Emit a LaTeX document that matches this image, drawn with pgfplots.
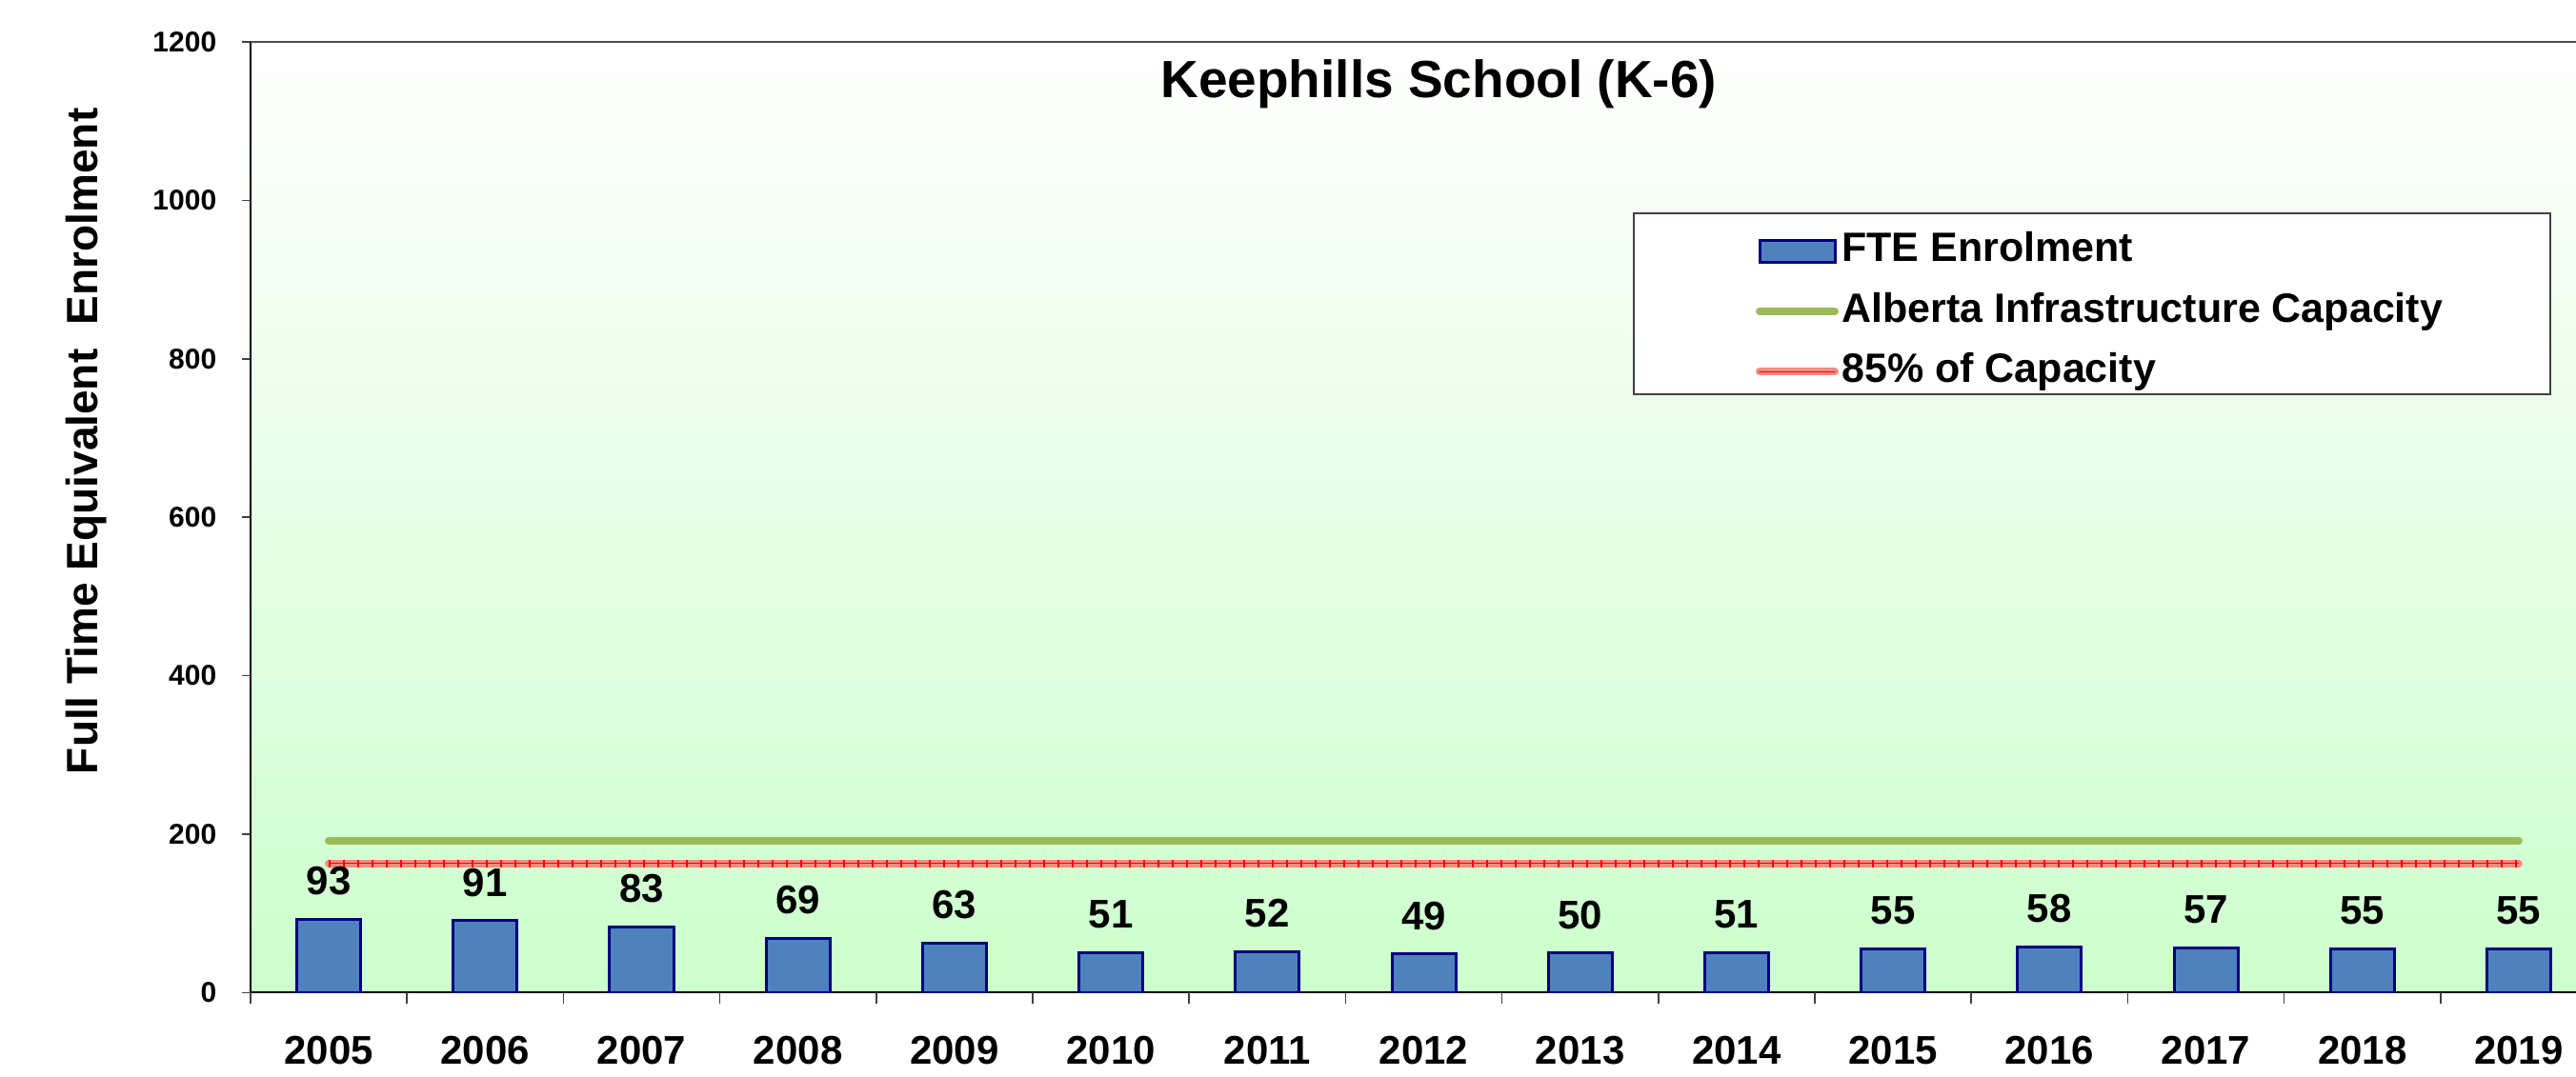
\documentclass[border=0pt]{standalone}
\usepackage{fontspec}
\setmainfont{Liberation Sans}
\usepackage{pgfplots}
\pgfplotsset{compat=1.18}
\definecolor{barfill}{RGB}{79,129,189}
\definecolor{baredge}{RGB}{0,0,128}
\definecolor{capgreen}{RGB}{155,187,89}
\definecolor{capred}{RGB}{242,140,130}
\definecolor{bggreen}{RGB}{204,255,204}
\begin{document}
\begin{tikzpicture}
\useasboundingbox (-78.9pt,-26.55pt) rectangle (732.3pt,312.75pt);
\begin{axis}[
  at={(0,0)}, anchor=south west,
  scale only axis, width=732.3pt, height=299.55pt,
  xmin=-0.5, xmax=14.366, ymin=0, ymax=1200,
  axis x line*=bottom, axis y line*=left,
  axis line style={black, line width=0.6pt},
  axis background/.style={top color=white, bottom color=bggreen},
  tick align=outside,
  major tick length=2.7pt,
  /pgf/number format/assume math mode=true,
  /pgf/number format/1000 sep={},
  xtick={0,...,14},
  xticklabels={2005,2006,2007,2008,2009,2010,2011,2012,2013,2014,2015,2016,2017,2018,2019},
  xtick style={draw=none},
  extra x ticks={-0.5,0.5,...,13.5},
  extra x tick labels={},
  extra x tick style={major tick length=3.6pt, xtick style={draw=black!75, line width=0.5pt}},
  xticklabel style={font=\fontsize{12.6}{14}\selectfont\bfseries, yshift=-7.5pt},
  ytick={0,200,...,1200},
  ytick style={draw=black!75, line width=0.5pt},
  yticklabel style={font=\fontsize{9}{11}\selectfont\bfseries, xshift=-4.5pt},
  ylabel={Full Time Equivalent\ \ Enrolment},
  ylabel style={font=\fontsize{13.8}{16}\selectfont\bfseries, at={(rel axis cs:-0.0658,0.58)}, anchor=base, rotate=0},
  title={Keephills School (K-6)},
  title style={font=\fontsize{16.5}{19}\selectfont\bfseries, at={(rel axis cs:0.511,0.9216)}, anchor=base},
  legend style={at={(rel axis cs:0.647,0.804)}, anchor=north west, draw=none, fill=none,
    inner sep=0pt, row sep=5pt,
    font=\fontsize{12.9}{15}\selectfont\bfseries,
    nodes={inner sep=1pt, text height=9.3pt, text depth=2.7pt},
    /tikz/every even column/.append style={column sep=1.4pt}},
  legend cell align=left,
]
\draw[black!70, line width=0.6pt] (rel axis cs:0,1) -- (rel axis cs:1,1);
\draw[black!75, line width=0.6pt, fill=white] (rel axis cs:0.595,0.820) rectangle (rel axis cs:0.989,0.629);
\addplot[ybar, bar width=20.1pt, fill=barfill, draw=baredge, line width=0.9pt,
  nodes near coords,
  every node near coord/.append style={font=\fontsize{12.6}{14}\selectfont\bfseries, text=black, anchor=center, yshift=12pt},
  legend image code/.code={\draw[fill=barfill, draw=baredge, line width=0.9pt] (0pt,-3.5pt) rectangle (23.7pt,3.5pt);}]
  coordinates {(0,93) (1,91) (2,83) (3,69) (4,63) (5,51) (6,52) (7,49) (8,50) (9,51) (10,55) (11,58) (12,57) (13,55) (14,55)};
\addlegendentry{FTE Enrolment}
\addplot[capgreen, line width=2.4pt, line cap=round,
  legend image code/.code={\draw[capgreen, line width=2.4pt, line cap=round] (0pt,0pt) -- (23.7pt,0pt);}]
  coordinates {(0,192) (1,192) (2,192) (3,192) (4,192) (5,192) (6,192) (7,192) (8,192) (9,192) (10,192) (11,192) (12,192) (13,192) (14,192)};
\addlegendentry{Alberta Infrastructure Capacity}
\addplot[capred, line width=2.4pt, line cap=round,
  legend image code/.code={\draw[capred, line width=2.4pt, line cap=round] (0pt,0pt) -- (23.7pt,0pt); \draw[red, line width=0.4pt] (0pt,0pt) -- (23.7pt,0pt);}]
  coordinates {(0,163.2) (1,163.2) (2,163.2) (3,163.2) (4,163.2) (5,163.2) (6,163.2) (7,163.2) (8,163.2) (9,163.2) (10,163.2) (11,163.2) (12,163.2) (13,163.2) (14,163.2)};
\addlegendentry{85\% of Capacity}
\addplot[red, line width=0.4pt, forget plot]
  coordinates {(0,163.2) (14,163.2)};
\addplot[red, line width=2.4pt, dash pattern=on 0.5pt off 4pt, forget plot]
  coordinates {(0,163.2) (14,163.2)};
\end{axis}
\end{tikzpicture}
\end{document}
